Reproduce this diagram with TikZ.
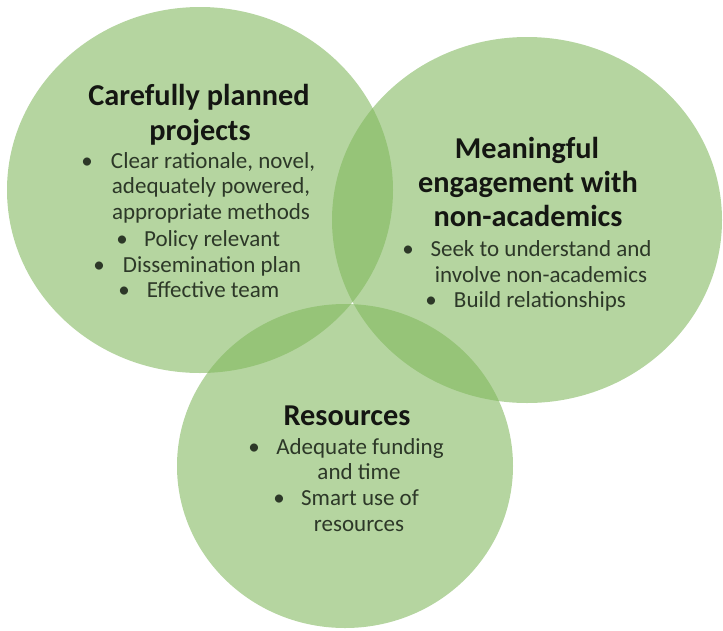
\documentclass[tikz,border=0pt]{standalone}
\usepackage{fontspec}
\setmainfont{Carlito}
\definecolor{circ}{RGB}{127,183,91}
\definecolor{headc}{RGB}{20,22,18}
\definecolor{bodyc}{RGB}{45,56,40}
\tikzset{
  blob/.style={fill=circ, fill opacity=0.58},
  head/.style={anchor=base, inner sep=0pt, text=headc, font=\fontsize{30.3}{31}\selectfont\bfseries},
  body/.style={anchor=base, inner sep=0pt, text=bodyc, font=\fontsize{23}{24}\selectfont},
  bul/.style={anchor=base, inner sep=0pt, text=bodyc, font=\fontsize{23}{24}\selectfont}
}
\begin{document}
\begin{tikzpicture}[x=1pt,y=-1pt]
\useasboundingbox (0,0) rectangle (723,630);
\clip (0,0) rectangle (723,630);
% circles
\fill[blob] (200,190) ellipse [x radius=193, y radius=183];
\fill[blob] (527,220) ellipse [x radius=195, y radius=183];
\fill[blob] (345,466) ellipse [x radius=168, y radius=162];
% left circle text
\node[head] (h1a) at (199,105) {Carefully planned};
\node[head] (h1b) at (200,140) {projects};
\node[bul]  (b1a) at (87,168) {•};
\node[body] (t1a) at (213,168) {Clear rationale, novel,};
\node[body] (t1b) at (211,193) {adequately powered,};
\node[body] (t1c) at (211,219) {appropriate methods};
\node[bul]  (b1b) at (122,246) {•};
\node[body] (t1d) at (212,246) {Policy relevant};
\node[bul]  (b1c) at (99,272) {•};
\node[body] (t1e) at (212,272) {Dissemination plan};
\node[bul]  (b1d) at (124,297) {•};
\node[body] (t1f) at (213,297) {Effective team};
% right circle text
\node[head] (h2a) at (527,158) {Meaningful};
\node[head] (h2b) at (528,192) {engagement with};
\node[head] (h2c) at (528,226) {non-academics};
\node[bul]  (b2a) at (408,256) {•};
\node[body] (t2a) at (541,256) {Seek to understand and};
\node[body] (t2b) at (541,282) {involve non-academics};
\node[bul]  (b2b) at (431,307) {•};
\node[body] (t2c) at (540,307) {Build relationships};
% bottom circle text
\node[head] (h3a) at (347,425) {Resources};
\node[bul]  (b3a) at (254,454) {•};
\node[body] (t3a) at (360,454) {Adequate funding};
\node[body] (t3b) at (359,479) {and time};
\node[bul]  (b3b) at (279,505) {•};
\node[body] (t3c) at (360,505) {Smart use of};
\node[body] (t3d) at (359,531) {resources};
\end{tikzpicture}
\end{document}
